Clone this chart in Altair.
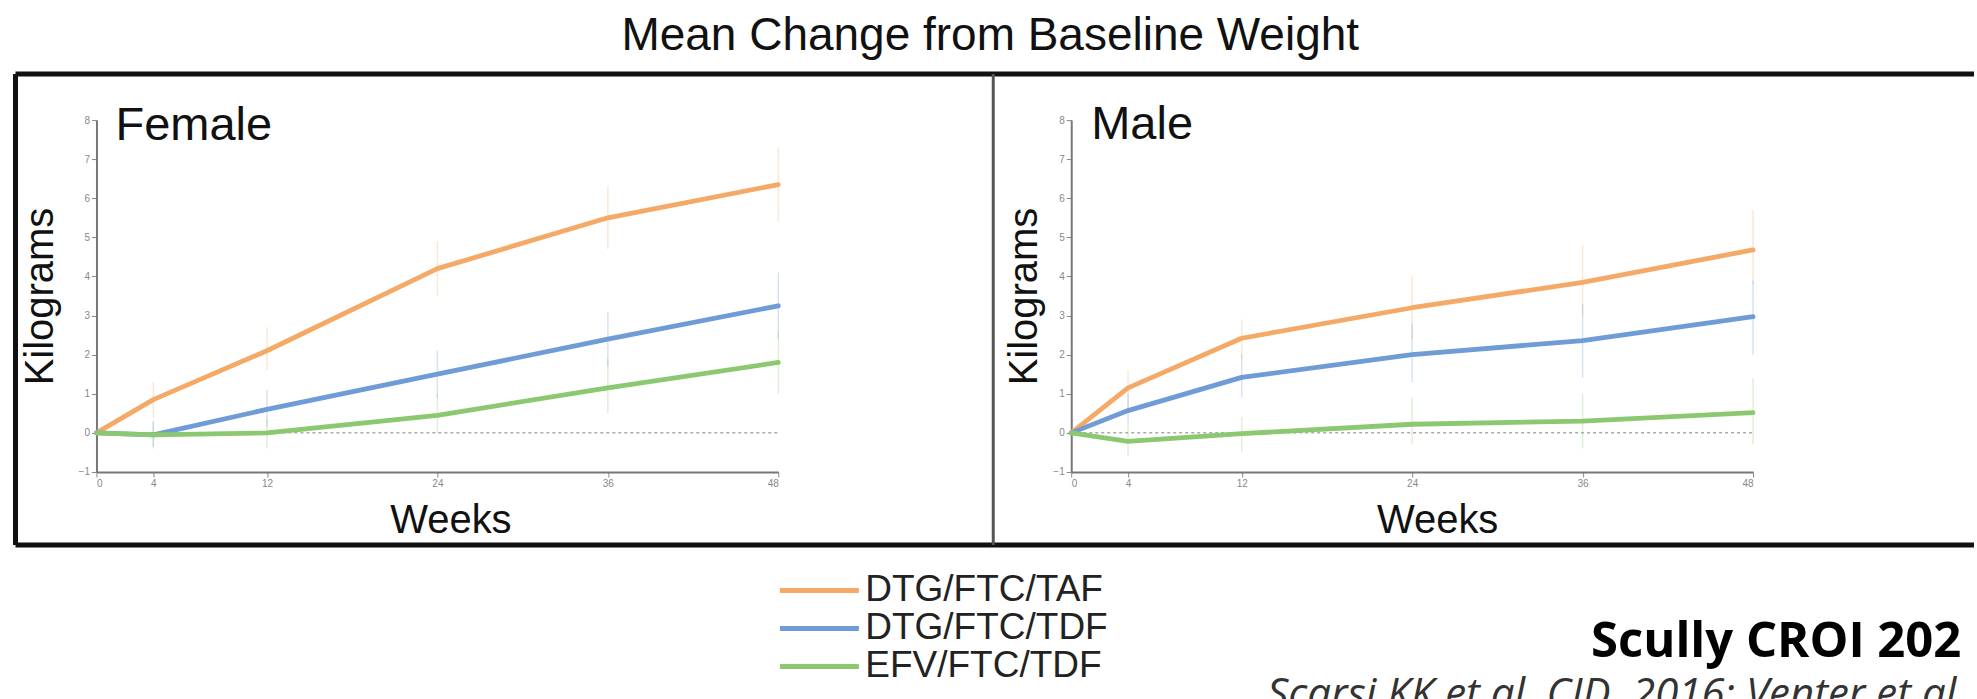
import altair as alt
import pandas as pd

# ---------------- data ----------------
weeks = [0, 4, 12, 24, 36, 48]
regimens = ["DTG/FTC/TAF", "DTG/FTC/TDF", "EFV/FTC/TDF"]
colors = ["#F4AA66", "#6F9CD6", "#8CC870"]
y_ticks = [-1, 0, 1, 2, 3, 4, 5, 6, 7, 8]
baseline_weeks = [0, 48]
baseline_kg = [0, 0]

# Female: mean change (kg)
female_taf = [0, 0.85, 2.1, 4.2, 5.5, 6.35]
female_dtg_tdf = [0, -0.05, 0.6, 1.5, 2.4, 3.25]
female_efv = [0, -0.05, 0.0, 0.45, 1.15, 1.8]
# Female: error bar ends
female_taf_lo = [0, 0.4, 1.6, 3.5, 4.7, 5.4]
female_taf_hi = [0, 1.3, 2.7, 4.9, 6.3, 7.3]
female_dtg_tdf_lo = [0, -0.35, 0.15, 0.9, 1.7, 2.4]
female_dtg_tdf_hi = [0, 0.3, 1.1, 2.1, 3.1, 4.1]
female_efv_lo = [0, -0.4, -0.4, 0.0, 0.5, 1.0]
female_efv_hi = [0, 0.3, 0.4, 1.0, 1.9, 2.6]

# Male: mean change (kg)
male_taf = [0, 1.15, 2.42, 3.2, 3.85, 4.68]
male_dtg_tdf = [0, 0.57, 1.42, 2.0, 2.36, 2.97]
male_efv = [0, -0.22, -0.02, 0.22, 0.3, 0.52]
# Male: error bar ends
male_taf_lo = [0, 0.6, 1.9, 2.4, 3.0, 3.8]
male_taf_hi = [0, 1.6, 2.9, 4.0, 4.8, 5.7]
male_dtg_tdf_lo = [0, 0.2, 0.9, 1.3, 1.4, 2.0]
male_dtg_tdf_hi = [0, 1.0, 2.0, 2.8, 3.3, 3.9]
male_efv_lo = [0, -0.6, -0.5, -0.3, -0.4, -0.3]
male_efv_hi = [0, 0.2, 0.4, 0.9, 1.0, 1.4]

title_text = "Mean Change from Baseline Weight"
source_bold = "Scully CROI 2020"
source_italic = "Scarsi KK et al. CID. 2016; Venter et al."


def build(series):
    rows = []
    for reg, (mean, lo, hi) in zip(regimens, series):
        for w, m, l, h in zip(weeks, mean, lo, hi):
            rows.append({"regimen": reg, "week": w, "kg": m, "lo": l, "hi": h})
    return pd.DataFrame(rows)


female_df = build([
    (female_taf, female_taf_lo, female_taf_hi),
    (female_dtg_tdf, female_dtg_tdf_lo, female_dtg_tdf_hi),
    (female_efv, female_efv_lo, female_efv_hi),
])
male_df = build([
    (male_taf, male_taf_lo, male_taf_hi),
    (male_dtg_tdf, male_dtg_tdf_lo, male_dtg_tdf_hi),
    (male_efv, male_efv_lo, male_efv_hi),
])
zero_df = pd.DataFrame({"week": baseline_weeks, "kg": baseline_kg})
one = pd.DataFrame({"k": [0]})

FONT = "Liberation Sans"
ZW = "\u200b"

# long horizontal stroke symbol: path units are scaled by sqrt(size)/2
female_legend = alt.Legend(
    title=None, orient="none", legendX=675, legendY=452, direction="vertical",
    symbolType="M-1,0H7", symbolSize=390, symbolStrokeWidth=5, symbolOpacity=1,
    labelFontSize=37, labelFont=FONT, labelColor="#222", labelOffset=57,
    labelLimit=400, rowPadding=0,
)


def panel(df, name, name_x, name_y, ytitle_pad, xtitle_x, legend, extras):
    color = alt.Color("regimen:N", scale=alt.Scale(domain=regimens, range=colors), legend=legend)
    x_axis = alt.Axis(values=weeks, title="Weeks", titlePadding=12, titleX=xtitle_x,
                      labelOverlap=False)
    y_axis = alt.Axis(values=y_ticks, title="Kilograms", titlePadding=ytitle_pad,
                      labelOverlap=False, tickCount=10)
    x = alt.X("week:Q", scale=alt.Scale(domain=[0, 48], nice=False), axis=x_axis)

    def ys(field):
        return alt.Y(field, type="quantitative", scale=alt.Scale(domain=[-1, 8], nice=False),
                     axis=y_axis)

    lines = alt.Chart(df).mark_line(strokeWidth=4.8, strokeCap="round", strokeJoin="round").encode(
        x=x, y=ys("kg"), color=color)
    err = alt.Chart(df[df.week > 0]).mark_rule(strokeWidth=1.5, opacity=0.28).encode(
        x=x, y=ys("lo"), y2="hi:Q", color=color)
    zero = alt.Chart(zero_df).mark_line(strokeDash=[3, 3], color="#aaaaaa", strokeWidth=1.5).encode(
        x=x, y=ys("kg"))
    label = alt.Chart(one).mark_text(text=name, fontSize=47, align="left", baseline="alphabetic",
                                     color="#111", font=FONT).encode(
        x=alt.value(name_x), y=alt.value(name_y))
    return alt.layer(zero, err, lines, label, *extras).properties(width=682, height=352)


def hrule(y, x1, x2, w, c):
    return alt.Chart(one).mark_rule(strokeWidth=w, color=c).encode(
        x=alt.value(x1), x2=alt.value(x2), y=alt.value(y))


def vrule(x, y1, y2, w, c):
    return alt.Chart(one).mark_rule(strokeWidth=w, color=c).encode(
        x=alt.value(x), y=alt.value(y1), y2=alt.value(y2))


female_extras = [
    hrule(-46, -81, 1878, 5, "#111"),
    hrule(425, -81, 1878, 5, "#111"),
    vrule(-81, -46, 425, 5, "#111"),
    vrule(897, -46, 425, 3, "#555"),
    alt.Chart(one).mark_text(text=title_text, fontSize=46, align="center", baseline="alphabetic",
                             color="#111", font=FONT).encode(x=alt.value(894), y=alt.value(-70)),
    alt.Chart(one).mark_text(text=source_bold, fontSize=49, fontWeight="bold", align="left",
                             baseline="alphabetic", color="#000", font="Open Sans",
                             limit=388, ellipsis=ZW).encode(x=alt.value(1495), y=alt.value(537)),
    alt.Chart(one).mark_text(text=source_italic, fontSize=42, fontStyle="italic", align="left",
                             baseline="alphabetic", color="#333", font="Open Sans",
                             limit=710, ellipsis=ZW).encode(x=alt.value(1171), y=alt.value(588)),
]

female = panel(female_df, "Female", 19, 20, 18, 354, female_legend, female_extras)
male = panel(male_df, "Male", 20, 19, 8, 366, None, [])

chart = alt.hconcat(female, male, spacing=293, bounds="flush").resolve_scale(
    color="independent").resolve_legend(color="independent").properties(
    padding={"left": 12.5, "top": 13, "right": 0, "bottom": 0}
).configure(font=FONT, background="white").configure_view(stroke=None).configure_axis(
    labelFont=FONT, labelFontSize=10, labelColor="#888", labelPadding=2, labelOverlap=False,
    tickColor="#888", tickSize=5, domainColor="#777", domainWidth=2, grid=False,
    titleFont=FONT, titleFontSize=40, titleFontWeight="normal", titleColor="#111",
)

chart.save("out.html", embed_options={"renderer": "svg", "actions": False})
